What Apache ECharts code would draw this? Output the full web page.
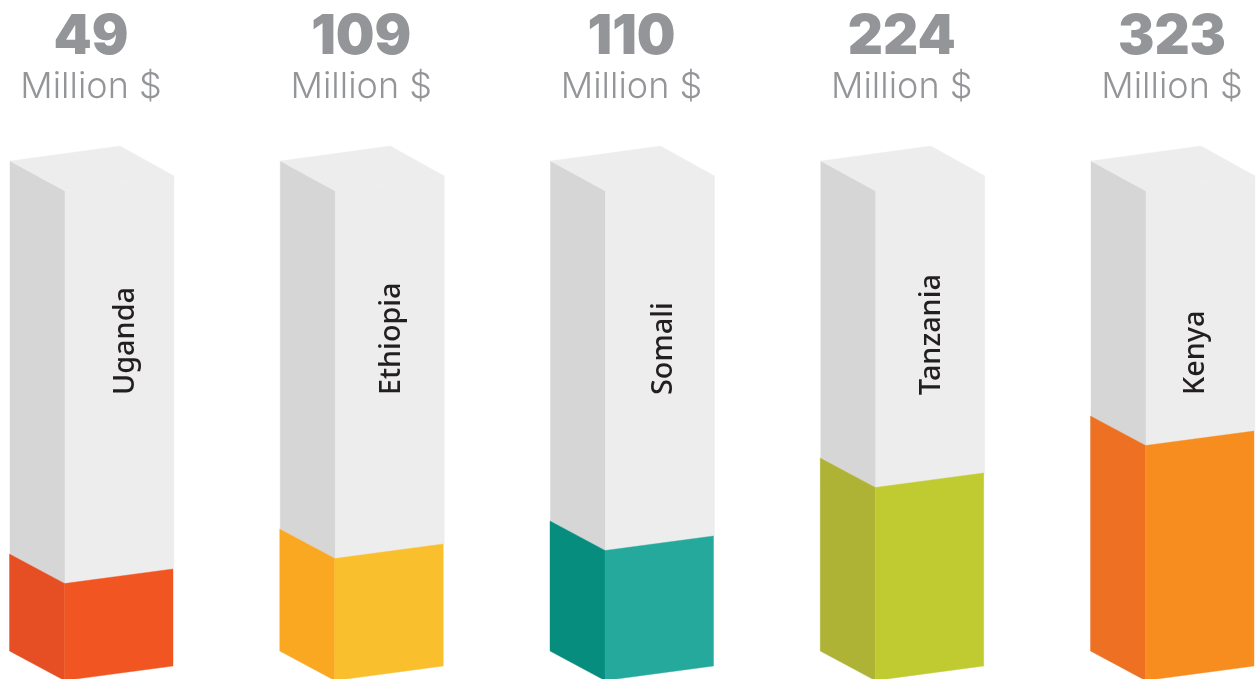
<!DOCTYPE html>
<html>
<head>
<meta charset="utf-8">
<script src="https://cdn.jsdelivr.net/npm/echarts@6/dist/echarts.min.js"></script>
<style>html,body{margin:0;padding:0;background:#fff;overflow:hidden}#c{width:1256px;height:679px}</style>
</head>
<body>
<div id="c"></div>
<script>
var countries = ['Uganda', 'Ethiopia', 'Somali', 'Tanzania', 'Kenya'];
var millions = [49, 109, 110, 224, 323];
// height of the coloured fill as it is drawn in the picture (axis runs to the full box height)
var fillLevels = [97, 122, 130, 193, 235];
var boxLevel = 490;
var frontColors = ['#F15522', '#F9BF2C', '#26A99D', '#BFCB31', '#F78C1F'];
var sideColors = ['#E54F23', '#FAA821', '#068D7E', '#AFB335', '#EE7023'];

var chart = echarts.init(document.getElementById('c'), null, {renderer: 'canvas'});

function poly(pts, color) {
  return {
    type: 'polygon',
    shape: {points: pts},
    style: {fill: color, stroke: color, lineWidth: 0.4}
  };
}

function renderBox(params, api) {
  var i = api.value(0);
  var base = api.coord([i, 0]);
  var top = api.coord([i, api.value(2)]);
  var fill = api.coord([i, api.value(1)]);
  var cx = base[0];
  var L = cx - 81;        // left edge of the box
  var midDx = 55, rightDx = 164, backDx = 110;
  var midDy = 30, rightDy = 15, backDy = -15;
  var tx = top[1], fy = fill[1], by = base[1];
  var fx = L - 0.5;
  var nudge = [4, 0, 1, -1, -7][i];
  return {
    type: 'group',
    children: [
      poly([[L, tx], [L + midDx, tx + midDy], [L + midDx, fy + midDy], [L, fy]], '#D6D6D6'),
      poly([[L + midDx, tx + midDy], [L + rightDx, tx + rightDy], [L + rightDx, fy + rightDy], [L + midDx, fy + midDy]], '#EDEDED'),
      poly([[L, tx], [L + backDx, tx + backDy], [L + rightDx, tx + rightDy], [L + midDx, tx + midDy]], '#EDEDED'),
      poly([[fx, fy], [fx + midDx, fy + midDy - 0.5], [fx + midDx, by + midDy - 0.5], [fx, by]], sideColors[i]),
      poly([[fx + midDx, fy + midDy - 0.5], [fx + rightDx - 0.5, fy + rightDy], [fx + rightDx - 0.5, by + rightDy], [fx + midDx, by + midDy - 0.5]], frontColors[i]),
      {
        type: 'text',
        x: cx, y: 38,
        style: {text: String(millions[i]), font: '900 54.5px Inter', fill: '#939598', align: 'center', verticalAlign: 'middle'}
      },
      {
        type: 'text',
        x: cx, y: 87,
        style: {text: 'Million $', font: '300 36px Inter', fill: '#939598', align: 'center', verticalAlign: 'middle'}
      },
      {
        type: 'text',
        x: L + 112 + nudge, y: tx + 234,
        rotation: Math.PI / 2,
        style: {text: countries[i], font: '500 28.8px "Noto Sans"', fill: '#231F20', align: 'left', verticalAlign: 'middle'}
      }
    ]
  };
}

chart.setOption({
  animation: false,
  backgroundColor: '#ffffff',
  grid: {left: 91, top: 161, width: 1081, height: boxLevel},
  xAxis: {type: 'category', data: countries, show: false, boundaryGap: false},
  yAxis: {type: 'value', min: 0, max: boxLevel, show: false},
  series: [{
    type: 'custom',
    clip: false,
    renderItem: renderBox,
    encode: {x: 0, y: 1},
    data: countries.map(function (c, i) { return [i, fillLevels[i], boxLevel]; })
  }]
});
</script>
</body>
</html>
